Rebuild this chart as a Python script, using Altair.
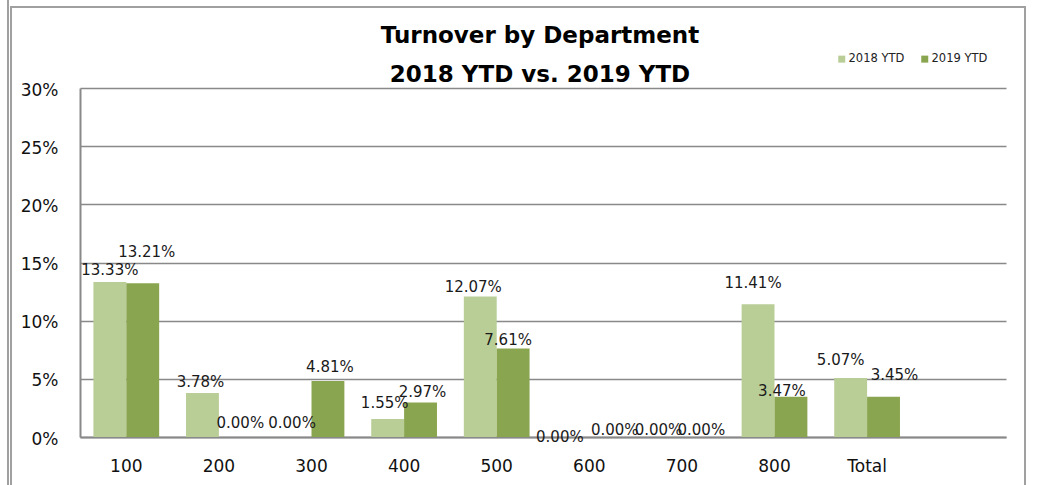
import altair as alt
import pandas as pd

departments = ["100", "200", "300", "400", "500", "600", "700", "800", "Total"]
ytd_2018 = [13.33, 3.78, 0.00, 1.55, 12.07, 0.00, 0.00, 11.41, 5.07]
ytd_2019 = [13.21, 0.00, 4.81, 2.97, 7.61, 0.00, 0.00, 3.47, 3.45]
series_names = ["2018 YTD", "2019 YTD"]
y_ticks = [0, 0.05, 0.10, 0.15, 0.20, 0.25, 0.30]
title_lines = ["Turnover by Department", "2018 YTD vs. 2019 YTD"]

# hand-placed data label nudges (pixels): horizontal shift, height above bar top
label_dx_2018 = [0, -2, -3, -3, -7, -13, -7, -5, -10]
label_up_2018 = [12, 11, 14, 16, 10, 0, 7, 21, 18]
label_dx_2019 = [4, 5, 2, 2, -5, 9, 3, -9, 11]
label_up_2019 = [31, 14, 14, 10, 8, 7, 7, 6, 22]

W, H = 926, 349
slots = departments + [" "]
step = W / len(slots)
ymax = 0.30

rows = []
for i, d in enumerate(departments):
    for s, vals, dxs, ups, base in [
        (series_names[0], ytd_2018, label_dx_2018, label_up_2018, 0.3225),
        (series_names[1], ytd_2019, label_dx_2019, label_up_2019, 0.6775),
    ]:
        v = vals[i] / 100
        rows.append({
            "dept": d,
            "series": s,
            "value": v,
            "label": f"{vals[i]:.2f}%",
            "lx": i + base + dxs[i] / step,
            "ly": v + ups[i] * ymax / H,
        })
df = pd.DataFrame(rows)

FONT = "DejaVu Sans"
GRID = "#898989"

bars = alt.Chart(df).mark_bar().encode(
    x=alt.X("dept:N", sort=slots,
            scale=alt.Scale(domain=slots, paddingInner=0.29, paddingOuter=0.145),
            axis=alt.Axis(title=None, labelAngle=0, labelFontSize=17, labelFont=FONT,
                          labelColor="#111", ticks=False, tickSize=0, labelPadding=21,
                          domainColor=GRID, domainWidth=2, grid=False)),
    xOffset=alt.XOffset("series:N", scale=alt.Scale(domain=series_names, paddingInner=0, paddingOuter=0)),
    y=alt.Y("value:Q", scale=alt.Scale(domain=[0, ymax], nice=False, zero=True),
            axis=alt.Axis(title=None, values=y_ticks, format=".0%", labelFontSize=17,
                          labelFont=FONT, labelColor="#111", ticks=False, tickSize=0,
                          labelPadding=22, labelOffset=2, domainColor=GRID, domainWidth=2,
                          gridColor=GRID, gridWidth=1.5)),
    color=alt.Color("series:N", scale=alt.Scale(domain=series_names, range=["#B9CD96", "#8AA54F"]),
                    legend=alt.Legend(title=None, orient="none", direction="horizontal",
                                      legendX=756, legendY=-35, symbolType="square",
                                      symbolSize=49, symbolStrokeWidth=0, labelFont=FONT,
                                      labelFontSize=11.5, labelColor="#222", labelOffset=1,
                                      columnPadding=14, padding=0)),
)

labels = alt.Chart(df).mark_text(font=FONT, fontSize=15, color="#1a1a1a", baseline="middle").encode(
    x=alt.X("lx:Q", scale=alt.Scale(domain=[0, len(slots)], nice=False, zero=False), axis=None),
    y=alt.Y("ly:Q"),
    text="label:N",
)

frame_df = pd.DataFrame({"k": [0]})
frame = alt.Chart(frame_df).mark_rect(fill=None, stroke="#a0a0a0", strokeWidth=2).encode(
    x=alt.value(-69), x2=alt.value(945), y=alt.value(-81), y2=alt.value(420)
)
frame_left = alt.Chart(frame_df).mark_rule(color="#a0a0a0", strokeWidth=2).encode(
    x=alt.value(-72), y=alt.value(-90), y2=alt.value(420)
)
title = alt.Chart(frame_df).mark_text(
    font=FONT, fontSize=23, fontWeight="bold", color="black",
    align="center", baseline="alphabetic", lineHeight=39,
).encode(
    x=alt.value(460), y=alt.value(-45), text=alt.value(title_lines)
)

chart = alt.layer(frame, frame_left, title, bars, labels).resolve_scale(x="independent").properties(
    width=W, height=H,
    autosize=alt.AutoSizeParams(type="none"),
    padding={"left": 80, "top": 88, "right": 32, "bottom": 48},
    background="white",
).configure_view(stroke=None)

chart.save("out.html", embed_options={"renderer": "svg", "actions": False})
